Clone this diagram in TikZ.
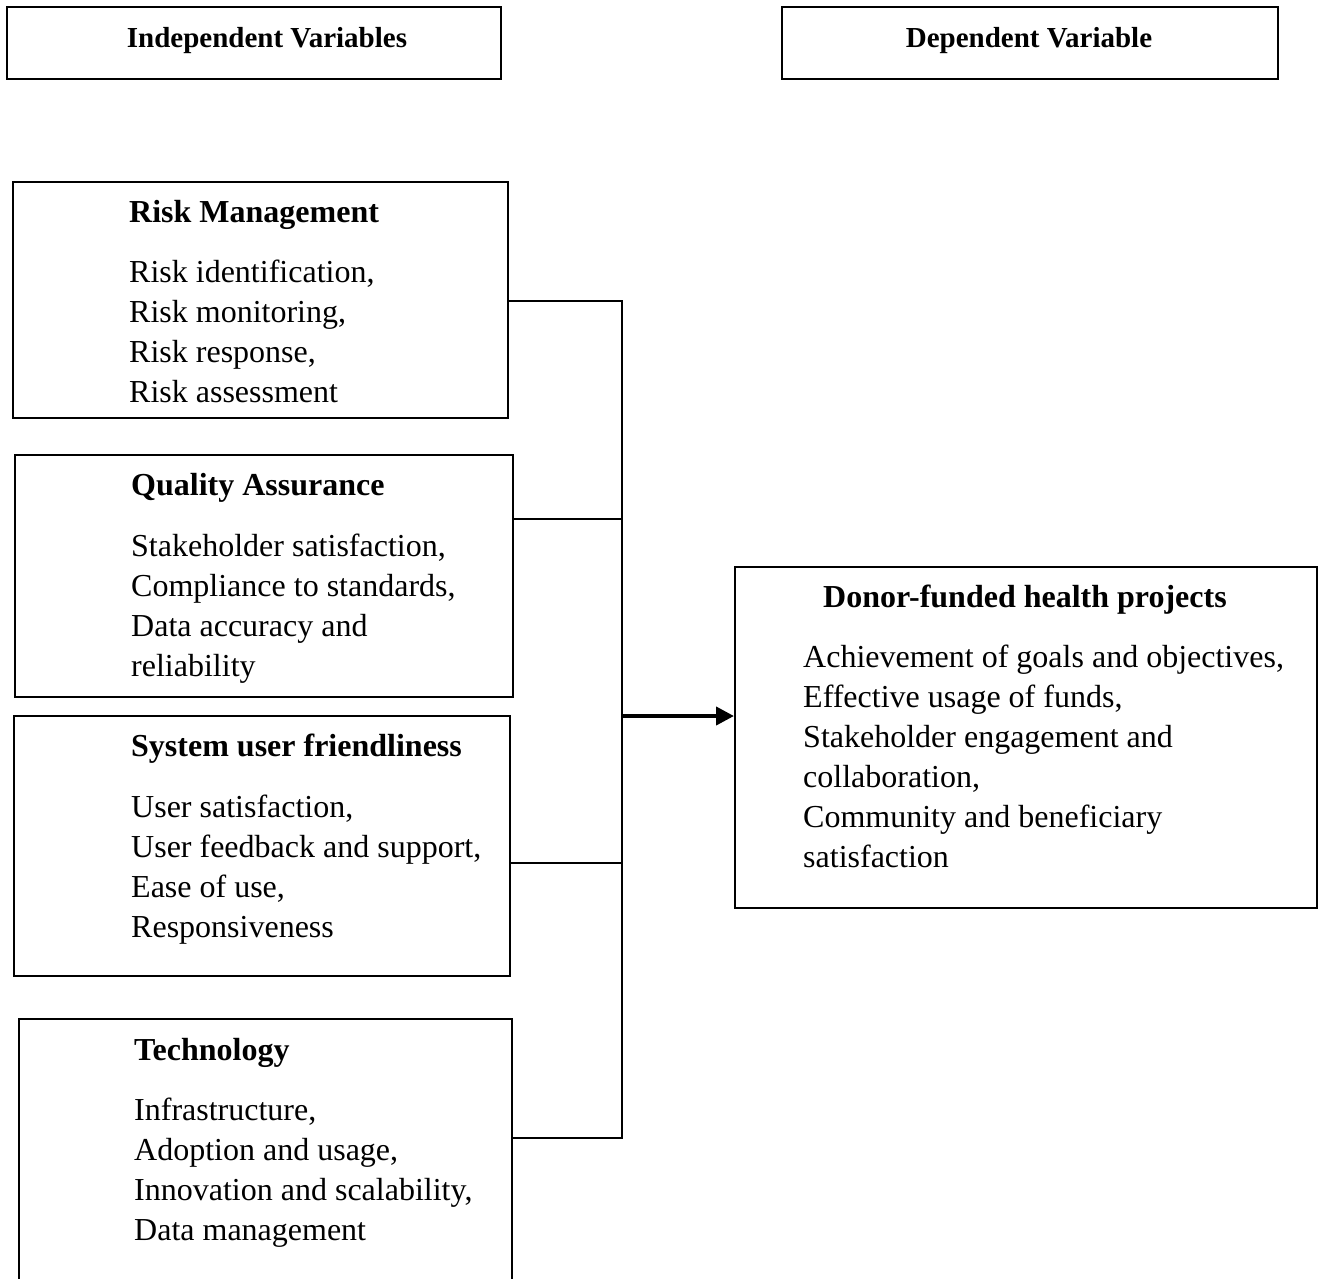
\documentclass[tikz,border=0pt]{standalone}
\usepackage{fontspec}
\setmainfont{Liberation Serif}
\usetikzlibrary{arrows.meta}
\begin{document}
\begin{tikzpicture}[x=1pt,y=-1pt,
  box/.style={draw, line width=2pt, inner sep=0pt, anchor=north west},
  hdr/.style={font=\fontsize{29}{35}\selectfont\bfseries, inner sep=0pt, anchor=base},
  ttl/.style={font=\fontsize{32}{40}\selectfont\bfseries, inner sep=0pt, anchor=base west},
  item/.style={font=\fontsize{32}{40}\selectfont, inner sep=0pt, anchor=base west},
  conn/.style={line width=2.8pt, line cap=rect},
  arr/.style={line width=4pt, -{Triangle[length=18pt,width=18pt]}}]
\useasboundingbox (0,0) rectangle (1325,1278);
\fill[white] (0,0) rectangle (1325,1278);
\clip (0,0) rectangle (1325,1278);

% header boxes
\node[box, minimum width=494pt, minimum height=72pt] (hi) at (6,6) {};
\node[hdr] (hi-t) at (267,47) {Independent Variables};
\node[box, minimum width=496pt, minimum height=72pt] (hd) at (781,6) {};
\node[hdr] (hd-t) at (1029,47) {Dependent Variable};

% Risk Management
\node[box, minimum width=495pt, minimum height=236pt] (rm) at (12,181) {};
\node[ttl] (rm-t) at (129,222) {Risk Management};
\foreach \t [count=\i] in {{Risk identification,},{Risk monitoring,},{Risk response,},{Risk assessment}}
  \node[item] (rm-\i) at (129,{242+40*\i}) {\t};

% Quality Assurance
\node[box, minimum width=498pt, minimum height=242pt] (qa) at (14,454) {};
\node[ttl] (qa-t) at (131,495) {Quality Assurance};
\foreach \t [count=\i] in {{Stakeholder satisfaction,},{Compliance to standards,},{Data accuracy and},{reliability}}
  \node[item] (qa-\i) at (131,{516+40*\i}) {\t};

% System user friendliness
\node[box, minimum width=496pt, minimum height=260pt] (su) at (13,715) {};
\node[ttl] (su-t) at (131,756) {System user friendliness};
\foreach \t [count=\i] in {{User satisfaction,},{User feedback and support,},{Ease of use,},{Responsiveness}}
  \node[item] (su-\i) at (131,{777+40*\i}) {\t};

% Technology
\node[box, minimum width=493pt, minimum height=290pt] (te) at (18,1018) {};
\node[ttl] (te-t) at (134,1060) {Technology};
\foreach \t [count=\i] in {{Infrastructure,},{Adoption and usage,},{Innovation and scalability,},{Data management}}
  \node[item] (te-\i) at (134,{1080+40*\i}) {\t};

% Dependent box
\node[box, minimum width=582pt, minimum height=341pt] (dp) at (734,566) {};
\node[ttl] (dp-t) at (823,607) {Donor-funded health projects};
\foreach \t [count=\i] in {{Achievement of goals and objectives,},{Effective usage of funds,},{Stakeholder engagement and},{collaboration,},{Community and beneficiary},{satisfaction}}
  \node[item] (dp-\i) at (803,{627+40*\i}) {\t};

% connectors
\coordinate (b1) at (622,301);
\coordinate (b2) at (622,519);
\coordinate (ba) at (622,716);
\coordinate (b3) at (622,863);
\coordinate (b4) at (622,1138);
\draw[conn] (rm.east |- b1) -- (b1) -- (b4) -- (te.east |- b4);
\draw[conn] (qa.east |- b2) -- (b2);
\draw[conn] (su.east |- b3) -- (b3);
\draw[arr] (ba) -- (dp.west |- ba);
\end{tikzpicture}
\end{document}
